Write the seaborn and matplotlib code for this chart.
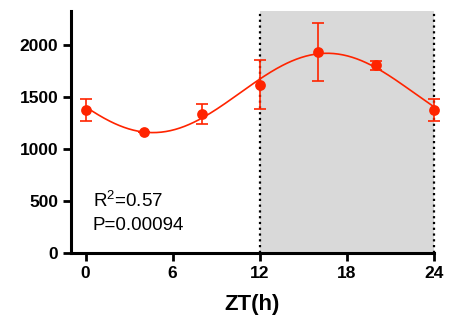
import numpy as np
import pandas as pd
import matplotlib
matplotlib.use("Agg")
import matplotlib.pyplot as plt
import seaborn as sns

zt = [0, 4, 8, 12, 16, 20, 24]
mean_vals = [1375, 1160, 1339, 1618, 1933, 1804, 1375]
sem_vals = [105, 0, 96, 232, 280, 45, 105]
x_ticks = [0, 6, 12, 18, 24]
y_ticks = [0, 500, 1000, 1500, 2000]
r2_text = "R$^2$=0.57"
p_text = "P=0.00094"

sns.set_theme(style="ticks")
plt.rcParams['font.family'] = ['Liberation Sans', 'DejaVu Sans']
plt.rcParams['mathtext.fontset'] = 'custom'
plt.rcParams['mathtext.rm'] = 'Liberation Sans'
plt.rcParams['text.color'] = 'black'
plt.rcParams['axes.labelcolor'] = 'black'
plt.rcParams['xtick.color'] = 'black'
plt.rcParams['ytick.color'] = 'black'

red = "#ff2400"
df = pd.DataFrame({"ZT": zt, "value": mean_vals, "sem": sem_vals})

# cosinor fit (period 24h) from the means
t = np.array(zt[:-1], float)
yv = np.array(mean_vals[:-1], float)
A = np.column_stack([np.ones_like(t), np.cos(2*np.pi*t/24), np.sin(2*np.pi*t/24)])
coef, *_ = np.linalg.lstsq(A, yv, rcond=None)
tf = np.linspace(0, 24, 300)
fit = coef[0] + coef[1]*np.cos(2*np.pi*tf/24) + coef[2]*np.sin(2*np.pi*tf/24)
fit_df = pd.DataFrame({"ZT": tf, "fit": fit})

fig = plt.figure(figsize=(4.61, 3.25), dpi=100)
ax = fig.add_axes([0.154, 0.2215, 0.787, 0.7445])

ax.axvspan(12, 24, color="#d9d9d9", zorder=0, lw=0)
for xv in (12, 24):
    ax.axvline(xv, color="black", ls=(0, (1, 1.6)), lw=1.6, zorder=1, clip_on=False)

sns.lineplot(data=fit_df, x="ZT", y="fit", color=red, lw=1.2, ax=ax, zorder=3)
ax.errorbar(df["ZT"], df["value"], yerr=df["sem"], fmt="none", ecolor=red,
            elinewidth=1.2, capsize=4, capthick=1.2, zorder=4, clip_on=False)
sns.scatterplot(data=df, x="ZT", y="value", color=red, s=60, edgecolor=red,
                linewidth=0, ax=ax, zorder=5, clip_on=False)

ax.set_xlim(-1, 24)
ax.set_ylim(0, 2325)
ax.set_xticks(x_ticks)
ax.set_yticks(y_ticks)
ax.set_xticklabels([str(v) for v in x_ticks], fontsize=12.5, fontweight="bold")
ax.set_yticklabels([str(v) for v in y_ticks], fontsize=12.5, fontweight="bold")
ax.tick_params(axis="both", direction="out", length=6, width=2, pad=3, color="black")
for s in ["top", "right"]:
    ax.spines[s].set_visible(False)
for s in ["left", "bottom"]:
    ax.spines[s].set_linewidth(2.2)
    ax.spines[s].set_color("black")
ax.set_ylabel("")
ax.set_xlabel("ZT(h)", fontsize=16, fontweight="bold", labelpad=10)

ax.text(0.5, 500, r2_text, fontsize=13.5, va="center", ha="left")
ax.text(0.5, 265, p_text, fontsize=13.5, va="center", ha="left")

fig.savefig("out.png", dpi=100)
